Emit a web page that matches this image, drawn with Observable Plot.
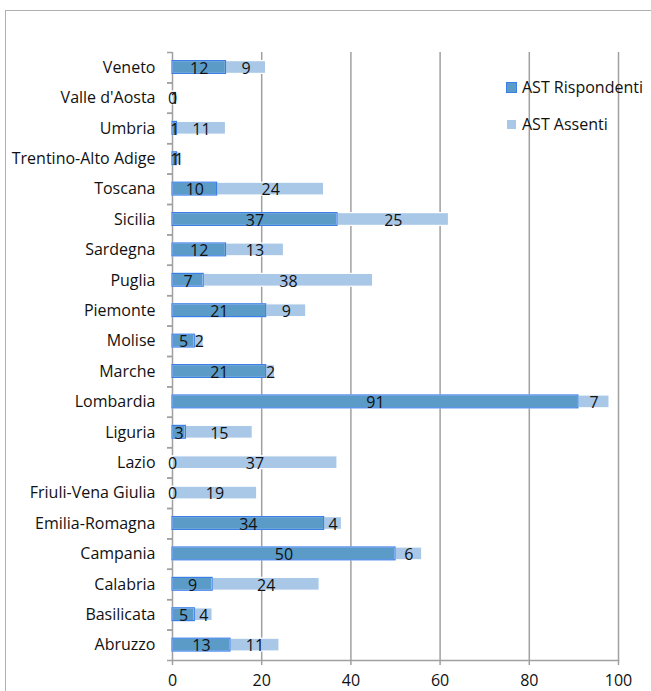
<!DOCTYPE html>
<html>
<head>
<meta charset="utf-8">
<script src="https://cdn.jsdelivr.net/npm/d3@7"></script>
<script src="https://cdn.jsdelivr.net/npm/@observablehq/plot@0.6"></script>
<style>
  html, body { margin: 0; padding: 0; background: #fff; }
  #wrap { position: relative; width: 651px; height: 691px; overflow: hidden; font-family: "Open Sans", Lato, sans-serif; }
  #frame { position: absolute; left: 5px; top: 10px; width: 700px; height: 750px; border: 1.5px solid #b0b0b0; box-sizing: border-box; }
  #chart { position: absolute; left: 0; top: 0; }
  #legend { position: absolute; left: 506px; top: 76px; font-size: 16px; color: #111; }
  .item { display: flex; align-items: center; height: 22px; margin-bottom: 15px; }
  .sw { display: inline-block; box-sizing: border-box; margin-right: 5px; }
</style>
</head>
<body>
<div id="wrap">
  <div id="frame"></div>
  <div id="chart"></div>
  <div id="legend"></div>
</div>
<script>
const regions = ["Veneto","Valle d'Aosta","Umbria","Trentino-Alto Adige","Toscana","Sicilia","Sardegna","Puglia","Piemonte","Molise","Marche","Lombardia","Liguria","Lazio","Friuli-Vena Giulia","Emilia-Romagna","Campania","Calabria","Basilicata","Abruzzo"];
const rispondenti = [12,0,1,1,10,37,12,7,21,5,21,91,3,0,0,34,50,9,5,13];
const assenti     = [9,1,11,1,24,25,13,38,9,2,2,7,15,37,19,4,6,24,4,11];
const seriesNames = ["AST Rispondenti","AST Assenti"];
const seriesColors = ["#5b9bc8","#a9c8e8"];
const xTicks = [0,20,40,60,80,100];

const data = [];
regions.forEach((r, i) => {
  data.push({region: r, series: seriesNames[0], value: rispondenti[i]});
  data.push({region: r, series: seriesNames[1], value: assenti[i]});
});
const resp = data.filter(d => d.series === seriesNames[0]);

const H = 691, mt = 52, mb = 31;
const step = (H - mt - mb) / regions.length;

const plot = Plot.plot({
  width: 651,
  height: H,
  marginLeft: 172,
  marginRight: 33,
  marginTop: mt,
  marginBottom: mb,
  style: {fontFamily: "'Open Sans', Lato, sans-serif", fontSize: "16px", color: "#111", background: "transparent"},
  x: {domain: [0, 100], ticks: xTicks, label: null},
  y: {domain: regions, padding: 0, round: false, label: null},
  color: {domain: seriesNames, range: seriesColors},
  marks: [
    Plot.gridX(xTicks.filter(t => t > 0), {stroke: "#a0a0a0", strokeOpacity: 1, strokeWidth: 1.5}),
    Plot.ruleX([0], {stroke: "#a0a0a0", strokeWidth: 1.5}),
    Plot.frame({anchor: "bottom", stroke: "#a0a0a0", strokeWidth: 1.5}),
    Plot.axisX({ticks: xTicks, tickSize: 5, tickPadding: 9, stroke: "#a0a0a0", strokeWidth: 1.5, fill: "#111", fontSize: 16, label: null}),
    Plot.axisY({tickSize: 0, tickPadding: 17, fill: "#111", fontSize: 16, label: null}),
    Plot.axisY({tickSize: 5, text: null, dy: step / 2, stroke: "#a0a0a0", strokeWidth: 1.5, label: null}),
    Plot.axisY({tickSize: 5, text: null, dy: -step / 2, stroke: "#a0a0a0", strokeWidth: 1.5, label: null}),
    Plot.barX(data, Plot.stackX({x: "value", y: "region", z: "series", fill: "series", stroke: "white", strokeWidth: 1.2, insetTop: 8.6, insetBottom: 9})),
    Plot.barX(resp, {x: "value", y: "region", fill: "none", stroke: "#3a7ee8", strokeWidth: 1.2, insetTop: 8.6, insetBottom: 9}),
    Plot.text(data, Plot.stackX({x: "value", y: "region", z: "series", text: d => String(d.value), fill: "#111", fontSize: 16, dy: 1}))
  ]
});
document.getElementById("chart").appendChild(plot);

const legend = document.getElementById("legend");
seriesNames.forEach((s, i) => {
  const item = document.createElement("div");
  item.className = "item";
  const sw = document.createElement("span");
  sw.className = "sw";
  if (i === 0) {
    sw.style.cssText = `width:11px;height:11px;background:${seriesColors[0]};border:1.5px solid #3a7ee8;`;
  } else {
    sw.style.cssText = `width:9px;height:9px;background:${seriesColors[1]};margin-left:1px;margin-right:6px;`;
  }
  const t = document.createElement("span");
  t.textContent = s;
  item.appendChild(sw);
  item.appendChild(t);
  legend.appendChild(item);
});
</script>
</body>
</html>
